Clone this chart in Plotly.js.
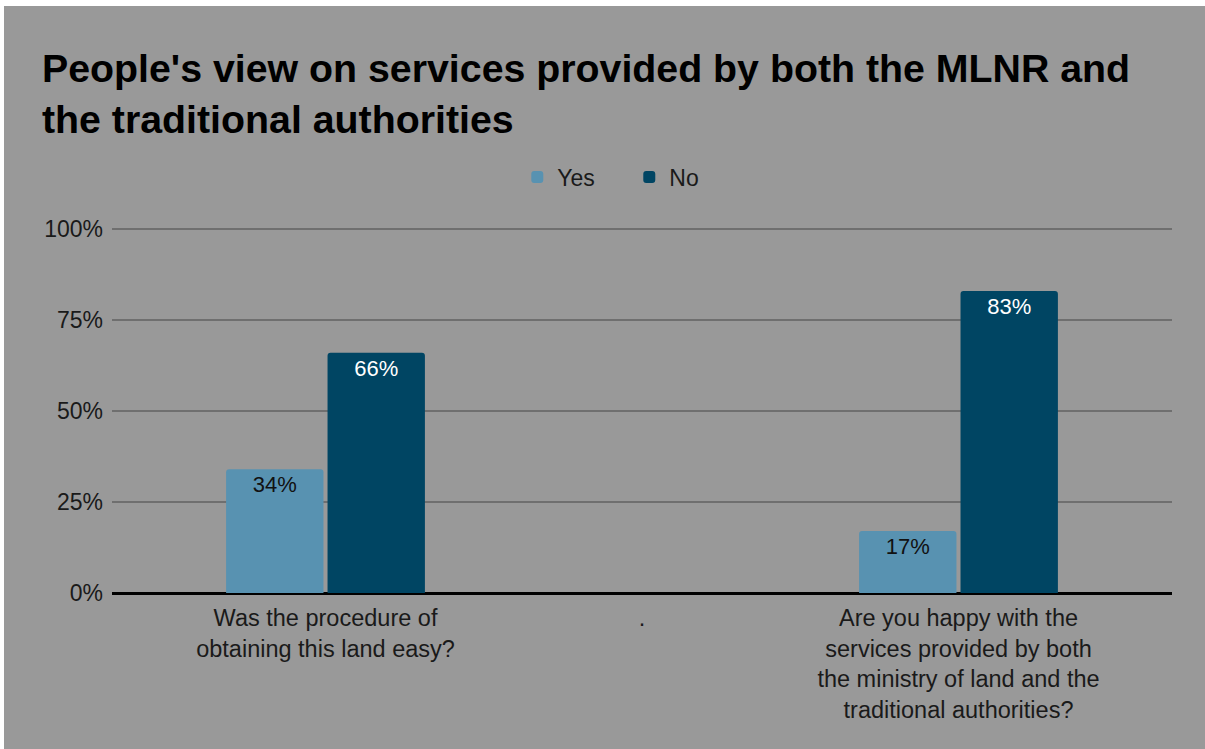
<!DOCTYPE html>
<html>
<head>
<meta charset="utf-8">
<script src="https://cdn.plot.ly/plotly-3.0.1.min.js"></script>
<style>
  html, body { margin: 0; padding: 0; background: #ffffff; }
  #chart { position: absolute; left: 4px; top: 6px; width: 1201px; height: 743px; }
</style>
</head>
<body>
<div id="chart"></div>
<script>
const categories = [
  "Was the procedure of obtaining this land easy?",
  ".",
  "Are you happy with the services provided by both the ministry of land and the traditional authorities?"
];
const tickLabels = [
  "Was the procedure of<br>obtaining this land easy?",
  ".",
  "Are you happy with the<br>services provided by both<br>the ministry of land and the<br>traditional authorities?"
];
const yesValues = [0.34, null, 0.17];
const noValues = [0.66, null, 0.83];
const seriesNames = ["Yes", "No"];

const FONT = "Liberation Sans, Arial, sans-serif";

const traces = [
  {
    type: "bar",
    name: seriesNames[0],
    x: categories,
    y: yesValues,
    marker: { color: "#5892b1", cornerradius: 3 },
    texttemplate: "%{y:.0%}",
    textposition: "inside",
    insidetextanchor: "end",
    insidetextfont: { color: "#111111", size: 22, family: FONT },
    hoverinfo: "skip"
  },
  {
    type: "bar",
    name: seriesNames[1],
    x: categories,
    y: noValues,
    marker: { color: "#004563", cornerradius: 3 },
    texttemplate: "%{y:.0%}",
    textposition: "inside",
    insidetextanchor: "end",
    insidetextfont: { color: "#ffffff", size: 22, family: FONT },
    hoverinfo: "skip"
  }
];

const layout = {
  width: 1201,
  height: 743,
  paper_bgcolor: "#999999",
  plot_bgcolor: "#999999",
  font: { family: FONT, color: "#1a1a1a", size: 23 },
  margin: { l: 108, r: 33, t: 221, b: 156 },
  title: {
    text: "People's view on services provided by both the MLNR and<br>the traditional authorities",
    font: { family: FONT, size: 39.3, color: "#000000", weight: "bold" },
    xref: "container", x: 38 / 1201, xanchor: "left",
    yref: "container", y: 1 - 76 / 743, yanchor: "top"
  },
  showlegend: true,
  legend: {
    orientation: "h",
    x: 0.488, xanchor: "center",
    y: 1 + 50 / 366, yanchor: "middle",
    font: { size: 23, color: "#1a1a1a", family: FONT },
    bgcolor: "rgba(0,0,0,0)",
    traceorder: "normal",
    entrywidth: 67,
    entrywidthmode: "pixels"
  },
  barmode: "group",
  bargap: 0.359,
  bargroupgap: 0.04,
  xaxis: {
    type: "category",
    range: [-0.6746, 2.6746],
    tickmode: "array",
    tickvals: categories,
    ticktext: tickLabels,
    showgrid: false,
    showline: true,
    linecolor: "#000000",
    linewidth: 2,
    ticks: "",
    ticklabelstandoff: 3,
    tickfont: { size: 23.5, color: "#1a1a1a", family: FONT },
    fixedrange: true
  },
  yaxis: {
    range: [0, 1.0055],
    tickvals: [0, 0.25, 0.5, 0.75, 1],
    tickformat: ".0%",
    showgrid: true,
    gridcolor: "#6f6f6f",
    gridwidth: 2,
    zeroline: true,
    zerolinecolor: "#000000",
    zerolinewidth: 2,
    ticks: "",
    ticklabelstandoff: 8,
    tickfont: { size: 23, color: "#1a1a1a", family: FONT },
    fixedrange: true
  }
};

Plotly.newPlot("chart", traces, layout, { displayModeBar: false, staticPlot: true });
</script>
</body>
</html>
